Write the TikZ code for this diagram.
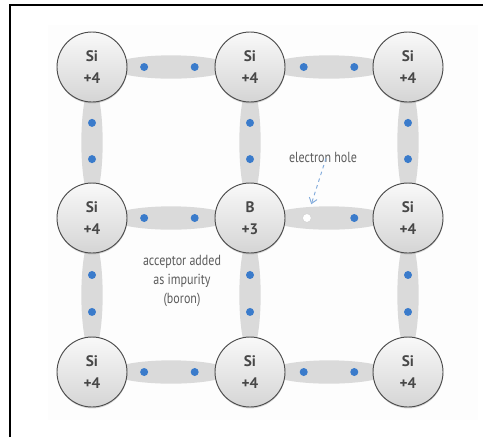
\documentclass[tikz,border=0pt]{standalone}
\usepackage{fontspec}
\setmainfont{PT Sans}
\newfontfamily\notefont[FakeStretch=0.82]{PT Sans}
\usetikzlibrary{calc,shadows,arrows.meta}

\definecolor{bondgray}{HTML}{DADADA}
\definecolor{electronblue}{HTML}{3A7BCB}
\definecolor{labelgray}{HTML}{474747}
\definecolor{notegray}{HTML}{5C5C5C}
\definecolor{arrowblue}{HTML}{80AADB}

\tikzset{
	atom/.style={circle, minimum size=2.1cm, inner sep=0pt, draw=gray!60!black, line width=0.8pt,
		top color=gray!5, bottom color=gray!33,
		drop shadow={opacity=0.3, shadow xshift=0.2pt, shadow yshift=-1.2pt},
		align=center, text=labelgray, font=\fontsize{13}{18.5}\selectfont\bfseries},
	note/.style={align=center, text=notegray, font=\notefont\fontsize{12.5}{16.5}\selectfont},
	bond/.style={fill=bondgray},
	electron/.style={fill=electronblue},
	hole/.style={circle, fill=white, draw=gray!40, line width=0.3pt, minimum size=0.26cm, inner sep=0pt},
	holearrow/.style={draw=arrowblue, dashed, line width=0.8pt, -{Straight Barb[length=1.6mm, width=2.4mm]}, shorten >=0.3cm}
}

\begin{document}
\begin{tikzpicture}[x=0.03cm, y=-0.03cm]
	\useasboundingbox (0,0) rectangle (483,437);
	\fill[gray!1.5] (48,25) rectangle (478,420); % faint panel
	
	% Frame
	\draw[line width=1.7pt] (10,437) -- (10,5) -- (483,5);
	
	% Atoms (only placed here, drawn after the bonds)
	\coordinate (a11) at (92,67);
	\coordinate (a12) at (250,67);
	\coordinate (a13) at (408,67);
	\coordinate (a21) at (92,218);
	\coordinate (a22) at (250,218);
	\coordinate (a23) at (408,218);
	\coordinate (a31) at (92,372);
	\coordinate (a32) at (250,372);
	\coordinate (a33) at (408,372);
	
	% Horizontal bonds
	\fill[bond] ($(a11)!0.5!(a12)$) ellipse [x radius=1.8cm, y radius=0.35cm];
	\fill[bond] ($(a12)!0.5!(a13)$) ellipse [x radius=1.8cm, y radius=0.35cm];
	\fill[bond] ($(a21)!0.5!(a22)$) ellipse [x radius=1.8cm, y radius=0.35cm];
	\fill[bond] ($(a22)!0.5!(a23)$) ellipse [x radius=1.8cm, y radius=0.35cm];
	\fill[bond] ($(a31)!0.5!(a32)$) ellipse [x radius=1.8cm, y radius=0.35cm];
	\fill[bond] ($(a32)!0.5!(a33)$) ellipse [x radius=1.8cm, y radius=0.35cm];
	
	% Vertical bonds
	\fill[bond] ($(a11)!0.5!(a21)$) ellipse [x radius=0.32cm, y radius=1.75cm];
	\fill[bond] ($(a12)!0.5!(a22)$) ellipse [x radius=0.32cm, y radius=1.75cm];
	\fill[bond] ($(a13)!0.5!(a23)$) ellipse [x radius=0.32cm, y radius=1.75cm];
	\fill[bond] ($(a21)!0.5!(a31)$) ellipse [x radius=0.32cm, y radius=1.75cm];
	\fill[bond] ($(a22)!0.5!(a32)$) ellipse [x radius=0.32cm, y radius=1.75cm];
	\fill[bond] ($(a23)!0.5!(a33)$) ellipse [x radius=0.32cm, y radius=1.75cm];
	
	% Atoms
	\node[atom] (si11) at (a11) {Si\\+4};
	\node[atom] (si12) at (a12) {Si\\+4};
	\node[atom] (si13) at (a13) {Si\\+4};
	\node[atom] (si21) at (a21) {Si\\+4};
	\node[atom] (boron) at (a22) {B\\+3};
	\node[atom] (si23) at (a23) {Si\\+4};
	\node[atom] (si31) at (a31) {Si\\+4};
	\node[atom] (si32) at (a32) {Si\\+4};
	\node[atom] (si33) at (a33) {Si\\+4};
	
	% Shared electrons, horizontal
	\fill[electron] ($(a11)!0.33!(a12)$) circle (0.12cm);
	\fill[electron] ($(a11)!0.65!(a12)$) circle (0.12cm);
	\fill[electron] ($(a12)!0.34!(a13)$) circle (0.12cm);
	\fill[electron] ($(a12)!0.66!(a13)$) circle (0.12cm);
	\fill[electron] ($(a21)!0.33!(a22)$) circle (0.12cm);
	\fill[electron] ($(a21)!0.65!(a22)$) circle (0.12cm);
	\fill[electron] ($(a22)!0.66!(a23)$) circle (0.12cm); % the other one is missing
	\fill[electron] ($(a31)!0.33!(a32)$) circle (0.12cm);
	\fill[electron] ($(a31)!0.65!(a32)$) circle (0.12cm);
	\fill[electron] ($(a32)!0.34!(a33)$) circle (0.12cm);
	\fill[electron] ($(a32)!0.66!(a33)$) circle (0.12cm);
	
	% Shared electrons, vertical
	\fill[electron] ($(a11)!0.37!(a21)$) circle (0.12cm);
	\fill[electron] ($(a11)!0.61!(a21)$) circle (0.12cm);
	\fill[electron] ($(a12)!0.37!(a22)$) circle (0.12cm);
	\fill[electron] ($(a12)!0.61!(a22)$) circle (0.12cm);
	\fill[electron] ($(a13)!0.37!(a23)$) circle (0.12cm);
	\fill[electron] ($(a13)!0.61!(a23)$) circle (0.12cm);
	\fill[electron] ($(a21)!0.37!(a31)$) circle (0.12cm);
	\fill[electron] ($(a21)!0.61!(a31)$) circle (0.12cm);
	\fill[electron] ($(a22)!0.37!(a32)$) circle (0.12cm);
	\fill[electron] ($(a22)!0.61!(a32)$) circle (0.12cm);
	\fill[electron] ($(a23)!0.37!(a33)$) circle (0.12cm);
	\fill[electron] ($(a23)!0.61!(a33)$) circle (0.12cm);
	
	% Hole left by the boron
	\node[hole] (hole) at ($(a22)!0.36!(a23)$) {};
	
	% Labels
	\node[note] (holelabel) at (323,157) {electron hole};
	\node[note] (impurity) at (182,281) {acceptor added\\as impurity\\(boron)};
	
	\draw[holearrow] ($(holelabel.south)+(3,-8)$) -- (hole); % dashed pointer
\end{tikzpicture}
\end{document}
